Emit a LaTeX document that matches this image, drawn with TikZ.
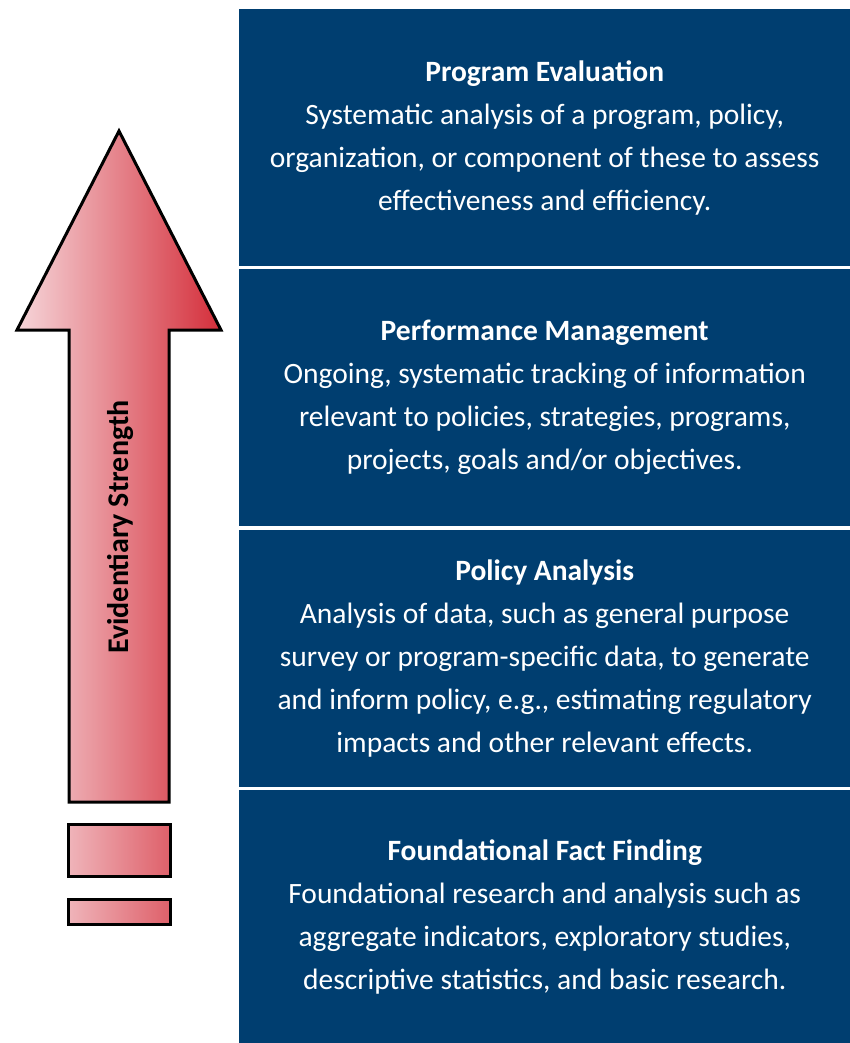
\documentclass[tikz,border=0pt]{standalone}
\usepackage{fontspec}
\setmainfont{Carlito}
\definecolor{navy}{RGB}{0,62,112}
\definecolor{pinklight}{RGB}{246,214,218}
\definecolor{reddark}{RGB}{212,46,58}
\tikzset{
    stage/.style={fill=navy, text=white, anchor=north west, minimum width=611pt,
        minimum height=257pt, align=center, inner sep=0pt,
        font=\fontsize{29.5}{43}\selectfont},
    strength/.style={left color=pinklight, right color=reddark, draw=black, line width=3pt},
    stub/.style={strength, left color=pinklight!80!reddark, right color=pinklight!30!reddark}
}
\begin{document}
\begin{tikzpicture}[x=1pt, y=-1pt]
    \useasboundingbox (0,0) rectangle (850,1043);

    % Stage boxes
    \node[stage] (evaluation) at (239,9) {\textbf{Program Evaluation}\\
        Systematic analysis of a program, policy,\\
        organization, or component of these to assess\\
        effectiveness and efficiency.};
    \node[stage] (performance) at (239,268.5) {\textbf{Performance Management}\\
        Ongoing, systematic tracking of information\\
        relevant to policies, strategies, programs,\\
        projects, goals and/or objectives.};
    \node[stage] (policy) at (239,529.5) {\textbf{Policy Analysis}\\
        Analysis of data, such as general purpose\\
        survey or program-specific data, to generate\\
        and inform policy, e.g., estimating regulatory\\
        impacts and other relevant effects.};
    \node[stage, minimum height=253pt] (foundation) at (239,790) {\textbf{Foundational Fact Finding}\\
        Foundational research and analysis such as\\
        aggregate indicators, exploratory studies,\\
        descriptive statistics, and basic research.};

    % Strength arrow
    \draw[strength, line join=miter] (69,802) -- (69,330) -- (17,330) -- (119,131)
        -- (221,330) -- (169,330) -- (169,802) -- cycle;
    \draw[stub] (68,824) rectangle (170,876);
    \draw[stub] (68,899) rectangle (170,924);
    \node[rotate=90, font=\bfseries\fontsize{30}{34}\selectfont] (label) at (120,527) {Evidentiary Strength};
\end{tikzpicture}
\end{document}
